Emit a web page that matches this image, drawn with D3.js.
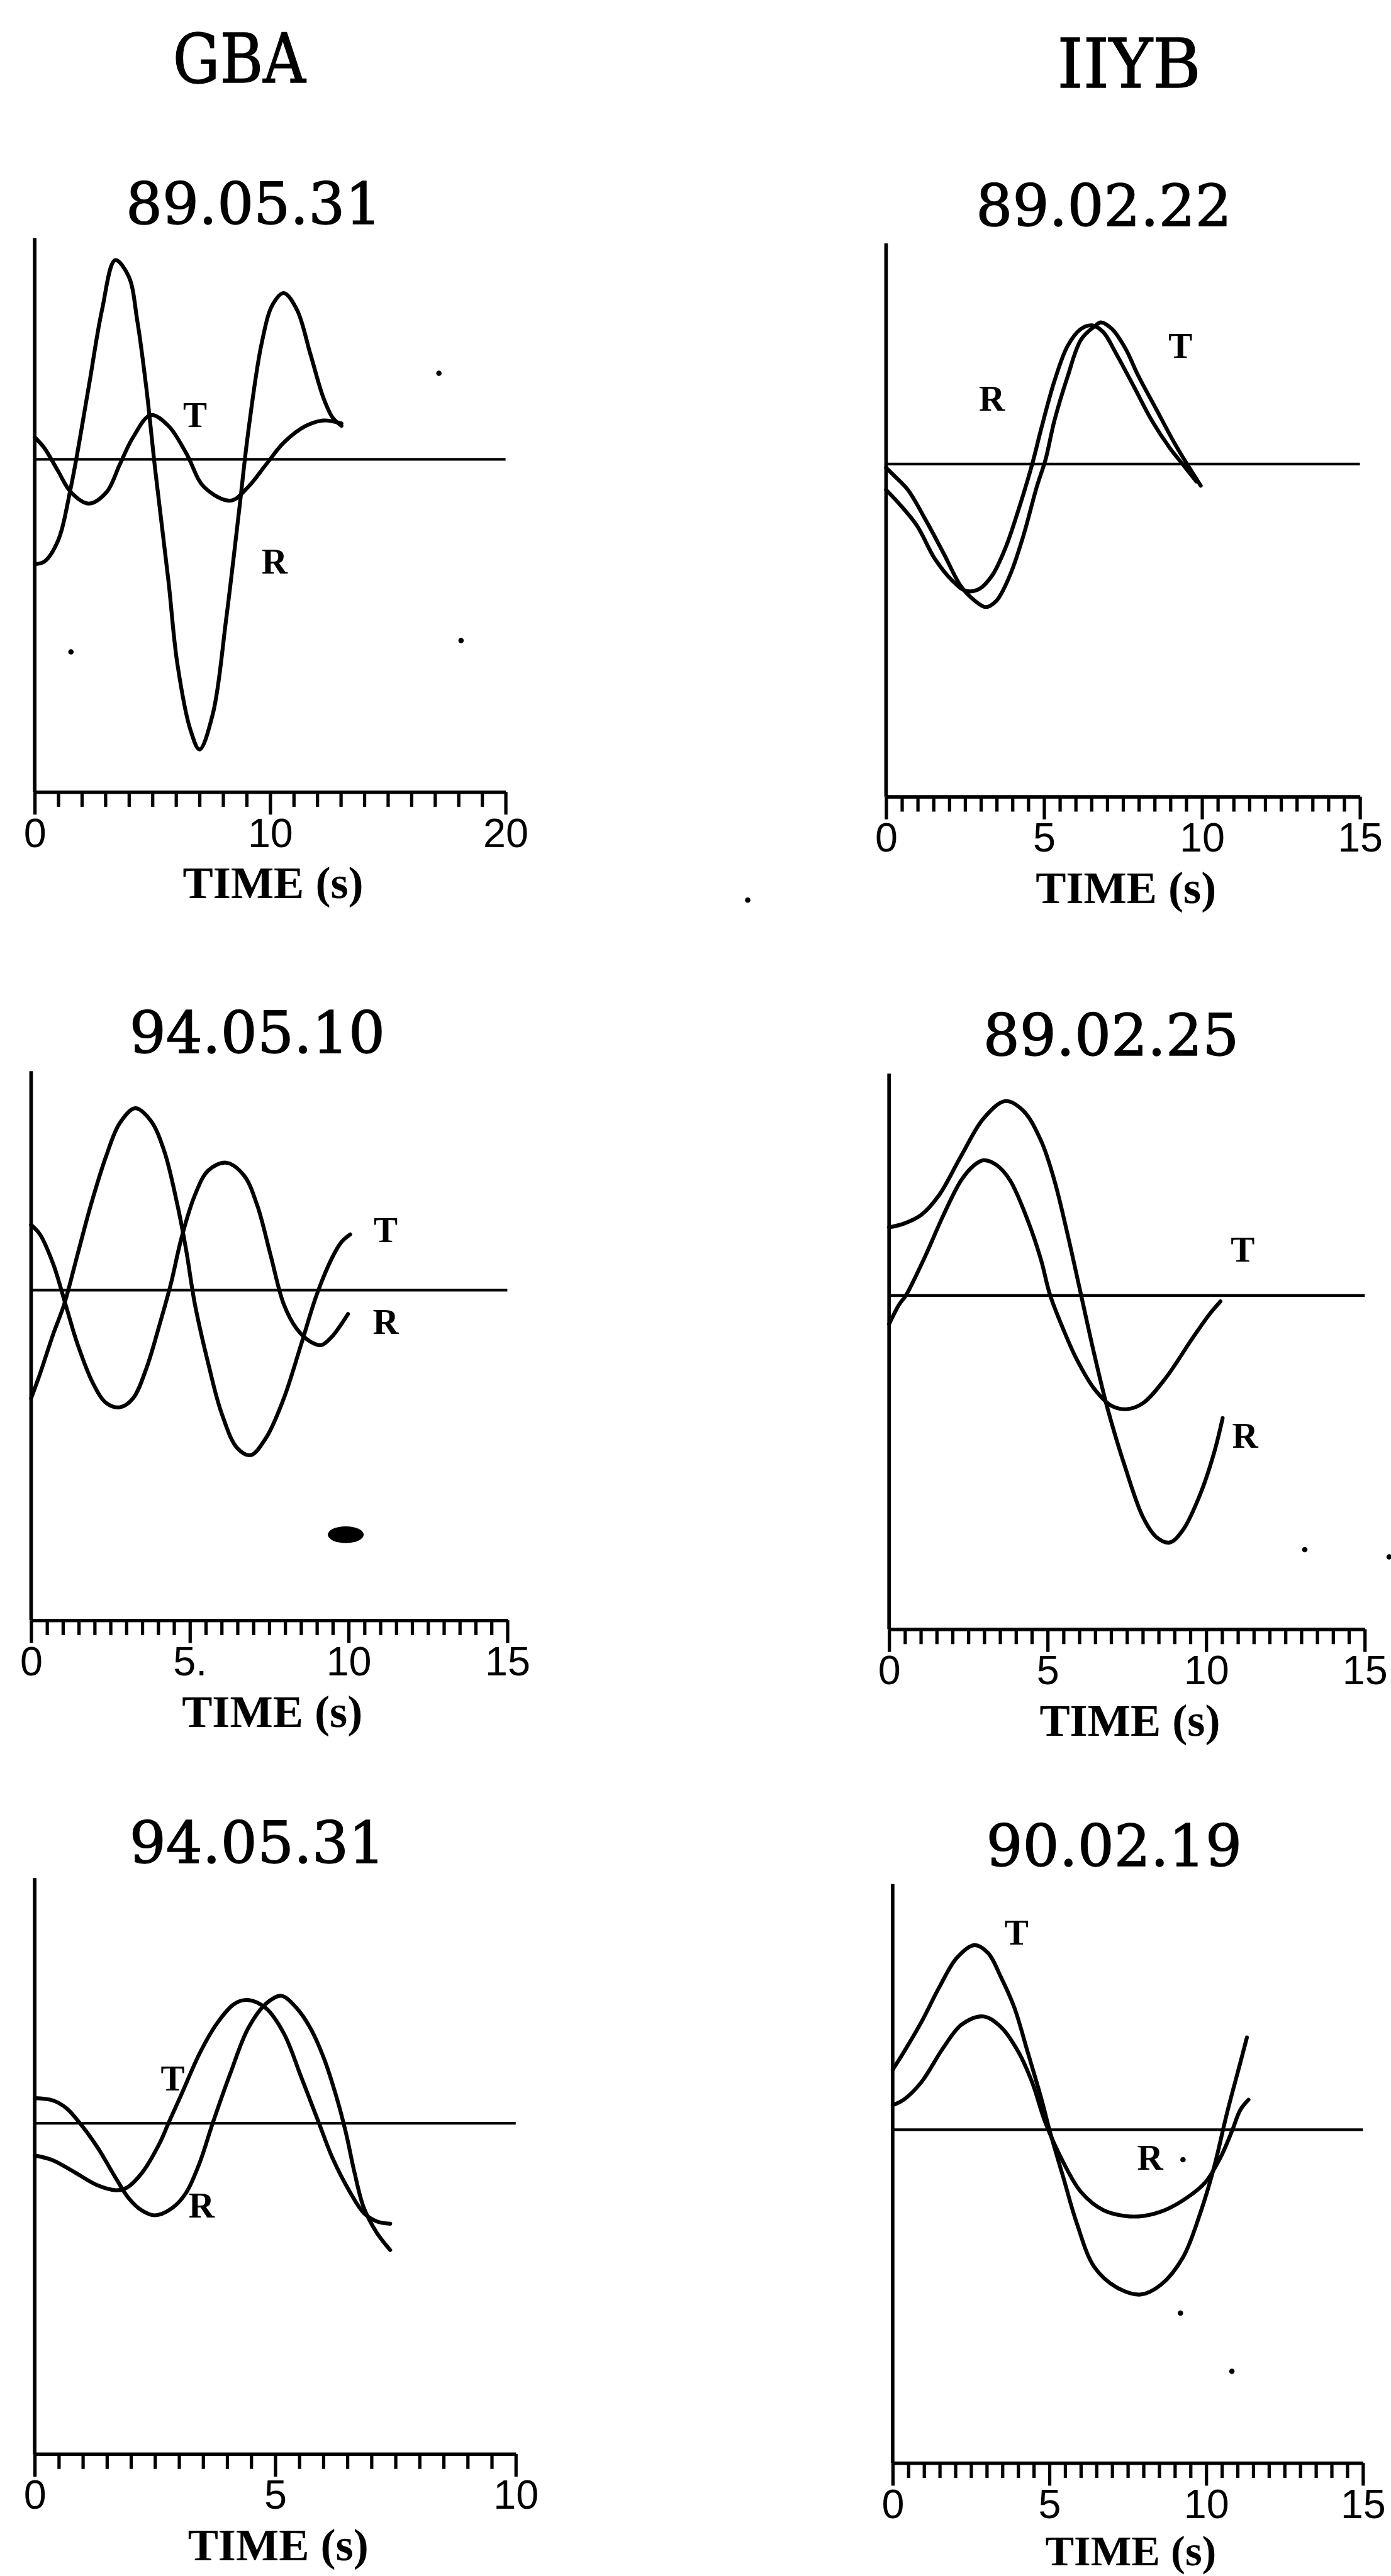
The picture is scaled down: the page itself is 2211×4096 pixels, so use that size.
<!DOCTYPE html>
<html><head><meta charset="utf-8">
<script src="https://cdn.jsdelivr.net/npm/d3@7"></script>
<style>html,body{margin:0;padding:0;background:#fff;} svg{display:block;background:#fff;}</style>
</head><body><svg id="c" width="2211" height="4096"></svg>
<script>
// ---------------- DATA ----------------
const stations = ["GBA", "IIYB"];
const eventDates = ["89.05.31", "89.02.22", "94.05.10", "89.02.25", "94.05.31", "90.02.19"];
const timeMax = [20, 15, 15, 15, 10, 15];
const majorTickValues = [[0, 10, 20], [0, 5, 10, 15], [0, 5, 10, 15], [0, 5, 10, 15], [0, 5, 10], [0, 5, 10, 15]];
const tickLabels = [["0", "10", "20"], ["0", "5", "10", "15"], ["0", "5.", "10", "15"], ["0", "5", "10", "15"], ["0", "5", "10"], ["0", "5", "10", "15"]];
const minorTickStep = [1, 0.5, 0.5, 0.5, 0.5, 0.5];
const axisTitle = "TIME (s)";
// amplitude range shown on each vertical axis (arbitrary units, 0 = reference line)
const ampDomain = [[-5.56, 3.70], [-5.56, 3.69], [-5.52, 3.66], [-5.58, 3.71], [-5.53, 4.10], [-5.56, 4.10]];

// [time s, amplitude]
const gba890531_R = [[0,-1.75],[0.41,-1.71],[0.97,-1.38],[1.54,-0.46],[2.29,1.20],[2.86,2.50],[3.42,3.33],[3.99,3.06],[4.36,2.31],[4.74,1.20],[5.12,-0.18],[5.68,-2.03],[6.06,-3.42],[6.62,-4.53],[7.00,-4.85],[7.57,-4.25],[8.13,-2.68],[8.69,-0.83],[9.07,0.46],[9.64,1.94],[10.11,2.59],[10.58,2.78],[11.14,2.50],[11.71,1.76],[12.27,1.02],[12.65,0.70],[13.03,0.56]];
const gba890531_T = [[0,0.37],[0.41,0.19],[0.97,-0.18],[1.54,-0.55],[2.29,-0.74],[3.05,-0.55],[3.61,-0.09],[4.18,0.37],[4.93,0.74],[5.68,0.56],[6.44,0.10],[7.19,-0.46],[8.32,-0.69],[9.07,-0.46],[9.82,-0.09],[10.58,0.28],[11.52,0.56],[12.27,0.65],[13.03,0.60]];

const iiyb890222_A = [[0,-0.06],[0.27,-0.20],[0.69,-0.43],[1.26,-0.94],[1.82,-1.49],[2.38,-2.05],[2.80,-2.28],[3.15,-2.39],[3.50,-2.28],[3.92,-1.86],[4.34,-1.21],[4.77,-0.38],[5.05,0.08],[5.33,0.73],[5.75,1.47],[6.17,2.08],[6.59,2.30],[6.80,2.37],[7.15,2.26],[7.57,1.94],[7.99,1.47],[8.55,0.92],[9.12,0.36],[9.54,-0.01],[9.96,-0.36]];
const iiyb890222_B = [[0,-0.43],[0.41,-0.66],[0.98,-1.03],[1.54,-1.58],[2.10,-1.95],[2.52,-2.12],[2.94,-2.09],[3.36,-1.86],[3.78,-1.40],[4.20,-0.75],[4.62,-0.01],[4.91,0.59],[5.33,1.39],[5.75,1.98],[6.17,2.26],[6.52,2.32],[6.87,2.21],[7.29,1.84],[7.85,1.29],[8.41,0.73],[8.98,0.27],[9.40,-0.01],[9.82,-0.29]];

const gba940510_T = [[0,-1.81],[0.28,-1.40],[0.70,-0.73],[1.04,-0.24],[1.46,0.59],[1.88,1.42],[2.37,2.25],[2.79,2.79],[3.28,3.04],[3.77,2.83],[4.19,2.33],[4.61,1.42],[4.88,0.68],[5.16,-0.24],[5.58,-1.23],[6.00,-2.06],[6.49,-2.64],[6.91,-2.76],[7.40,-2.47],[7.96,-1.81],[8.51,-0.90],[9.00,-0.07],[9.49,0.55],[9.77,0.80],[10.05,0.93]];
const gba940510_R = [[0,1.09],[0.28,0.93],[0.70,0.43],[1.09,-0.25],[1.46,-0.90],[1.95,-1.56],[2.37,-1.89],[2.79,-1.96],[3.21,-1.81],[3.63,-1.31],[4.05,-0.57],[4.40,0.10],[4.74,0.88],[5.16,1.59],[5.58,2.00],[6.14,2.13],[6.70,1.92],[7.12,1.42],[7.54,0.59],[7.96,-0.24],[8.37,-0.65],[8.79,-0.86],[9.14,-0.92],[9.49,-0.77],[9.77,-0.57],[9.98,-0.40]];

const iiyb890225_T = [[0,-0.48],[0.32,-0.15],[0.53,0.00],[1.16,0.68],[1.72,1.35],[2.28,1.93],[2.69,2.18],[2.98,2.26],[3.39,2.18],[3.81,1.93],[4.37,1.26],[4.79,0.60],[5.07,0.02],[5.49,-0.56],[5.91,-1.06],[6.47,-1.56],[7.03,-1.85],[7.52,-1.90],[8.01,-1.80],[8.71,-1.39],[9.55,-0.73],[10.11,-0.31],[10.45,-0.10]];
const iiyb890225_R = [[0,1.14],[0.46,1.20],[1.02,1.35],[1.58,1.68],[2.28,2.34],[2.98,2.96],[3.67,3.25],[4.23,3.09],[4.79,2.59],[5.21,1.93],[5.63,1.02],[6.05,0.02],[6.47,-0.98],[6.89,-1.89],[7.45,-2.88],[8.01,-3.71],[8.43,-4.04],[8.85,-4.13],[9.27,-3.92],[9.83,-3.30],[10.25,-2.63],[10.52,-2.05]];

const gba940531_R = [[0,0.42],[0.38,0.38],[0.66,0.25],[0.94,0.00],[1.31,-0.41],[1.68,-0.91],[1.95,-1.25],[2.23,-1.46],[2.50,-1.54],[2.87,-1.41],[3.15,-1.16],[3.43,-0.66],[3.70,0.00],[4.07,0.84],[4.44,1.59],[4.81,2.00],[5.13,2.13],[5.45,1.92],[5.73,1.59],[6.01,1.09],[6.28,0.42],[6.47,-0.16],[6.65,-0.83],[6.84,-1.41],[7.11,-1.83],[7.39,-2.12]];
const gba940531_T = [[0,-0.54],[0.38,-0.62],[0.85,-0.83],[1.31,-1.04],[1.68,-1.12],[1.91,-1.08],[2.23,-0.83],[2.60,-0.33],[2.78,0.00],[3.06,0.50],[3.43,1.17],[3.79,1.67],[4.16,2.00],[4.44,2.06],[4.81,1.92],[5.18,1.50],[5.55,0.75],[5.91,0.00],[6.19,-0.58],[6.56,-1.16],[6.84,-1.50],[7.11,-1.64],[7.39,-1.68]];

const iiyb900219_T = [[0,1.00],[0.35,1.29],[0.91,1.79],[1.48,2.37],[2.05,2.87],[2.61,3.08],[3.04,2.95],[3.46,2.54],[3.88,2.04],[4.31,1.29],[4.73,0.54],[5.02,-0.04],[5.44,-0.79],[5.86,-1.54],[6.43,-2.29],[7.14,-2.63],[7.91,-2.75],[8.55,-2.59],[9.26,-2.13],[9.82,-1.38],[10.25,-0.63],[10.67,0.29],[11.09,1.12],[11.30,1.54]];
const iiyb900219_R = [[0,0.41],[0.35,0.50],[0.91,0.79],[1.62,1.37],[2.19,1.75],[2.89,1.89],[3.46,1.71],[4.02,1.29],[4.45,0.79],[4.87,0.12],[5.44,-0.54],[6.01,-1.04],[6.71,-1.34],[7.42,-1.44],[7.98,-1.44],[8.69,-1.34],[9.40,-1.13],[9.97,-0.88],[10.46,-0.46],[10.81,-0.04],[11.09,0.33],[11.35,0.50]];

const panelSeries = [
  [gba890531_R, gba890531_T],
  [iiyb890222_A, iiyb890222_B],
  [gba940510_T, gba940510_R],
  [iiyb890225_T, iiyb890225_R],
  [gba940531_R, gba940531_T],
  [iiyb900219_T, iiyb900219_R]
];
// component labels [time, amplitude]
const labelTPos = [[6.81,0.74],[9.32,1.98],[11.17,1.01],[11.15,0.77],[2.87,0.75],[3.95,3.29]];
const labelRPos = [[10.19,-1.71],[3.35,1.10],[11.17,-0.53],[11.23,-2.34],[3.47,-1.37],[8.21,-0.46]];
// scan specks [panel, time, amplitude]
const specks = [[0,17.17,1.44],[0,1.54,-3.22],[0,18.11,-3.03],[1,-4.38,-7.29],[3,13.11,-4.25],[3,15.77,-4.37],[5,9.18,-3.06],[5,10.82,-4.03],[5,9.26,-0.50]];
const inkBlots = [[2,9.91,-4.09]];

// ---------------- LAYOUT (reference px) ----------------
const S = 0.951;
const frames = [
  {x0:58,   x1:845,  yTop:398,  yAxis:1324, titleX:424,  titleY:374, labY:1502, labSize:76},
  {x0:1481, x1:2273, yTop:407,  yAxis:1332, titleX:1845, titleY:377, labY:1510, labSize:76},
  {x0:52,   x1:848,  yTop:1791, yAxis:2709, titleX:430,  titleY:1760, labY:2887, labSize:76},
  {x0:1486, x1:2281, yTop:1795, yAxis:2724, titleX:1857, titleY:1764, labY:2902, labSize:76},
  {x0:58,   x1:862,  yTop:3140, yAxis:4103, titleX:430,  titleY:3115, labY:4281, labSize:76},
  {x0:1492, x1:2278, yTop:3150, yAxis:4118, titleX:1862, titleY:3120, labY:4289, labSize:72}
];
const headerPos = [[400,138],[1887,146]];
const headerWidth = [222, 240];

const svg = d3.select("#c");
svg.append("rect").attr("width",2211).attr("height",4096).attr("fill","#fff");
const root = svg.append("g").attr("transform", `scale(${S})`);

stations.forEach((s,i)=>{
  root.append("text").attr("x",headerPos[i][0]).attr("y",headerPos[i][1])
    .attr("text-anchor","middle").attr("font-family","'DejaVu Serif', serif")
    .attr("font-size",114).attr("fill","#000")
    .attr("textLength",headerWidth[i]).attr("lengthAdjust","spacingAndGlyphs")
    .attr("stroke","#000").attr("stroke-width",1.5).text(s);
});

const lineStroke = 6.5;
frames.forEach((f,i)=>{
  const x = d3.scaleLinear().domain([0,timeMax[i]]).range([f.x0,f.x1]);
  const y = d3.scaleLinear().domain(ampDomain[i]).range([f.yAxis,f.yTop]);
  const g = root.append("g");

  // title
  g.append("text").attr("x",f.titleX).attr("y",f.titleY).attr("text-anchor","middle")
    .attr("font-family","'DejaVu Serif', serif").attr("font-size",96).attr("fill","#000")
    .attr("stroke","#000").attr("stroke-width",1.5)
    .text(eventDates[i]);

  // vertical axis
  g.append("line").attr("x1",x(0)).attr("x2",x(0)).attr("y1",f.yTop).attr("y2",f.yAxis)
    .attr("stroke","#000").attr("stroke-width",6);

  // minor ticks
  const minor = d3.range(0, timeMax[i]+1e-9, minorTickStep[i]).filter(v=>!majorTickValues[i].includes(v));
  const gMin = g.append("g").attr("transform",`translate(0,${f.yAxis})`)
    .call(d3.axisBottom(x).tickValues(minor).tickSize(25).tickSizeOuter(0).tickFormat(""));
  // major ticks + labels
  const gMaj = g.append("g").attr("transform",`translate(0,${f.yAxis})`)
    .call(d3.axisBottom(x).tickValues(majorTickValues[i]).tickSize(38).tickSizeOuter(0)
      .tickFormat((d,k)=>tickLabels[i][k]));
  [gMin,gMaj].forEach(a=>{
    a.select(".domain").attr("stroke","#000").attr("stroke-width",5.5);
    a.selectAll(".tick line").attr("stroke","#000").attr("stroke-width",5.5);
  });
  gMaj.selectAll(".tick text").attr("y",92).attr("dy","0").attr("fill","#000")
    .attr("font-family","'Liberation Sans', Arial, sans-serif").attr("font-size",68);
  gMaj.attr("font-family",null).attr("font-size",null);

  // axis title
  g.append("text").attr("x",(f.x0+f.x1)/2+5).attr("y",f.labY).attr("text-anchor","middle")
    .attr("font-family","'Liberation Serif', 'Times New Roman', serif").attr("font-weight","bold")
    .attr("font-size",f.labSize).attr("fill","#000").text(axisTitle);

  // zero reference line
  g.append("line").attr("x1",x(0)).attr("x2",x(timeMax[i])).attr("y1",y(0)).attr("y2",y(0))
    .attr("stroke","#000").attr("stroke-width",4.5);

  // traces
  const line = d3.line().x(d=>x(d[0])).y(d=>y(d[1])).curve(d3.curveCatmullRom.alpha(0.5));
  panelSeries[i].forEach(s=>{
    g.append("path").attr("d",line(s)).attr("fill","none").attr("stroke","#000")
      .attr("stroke-width",lineStroke).attr("stroke-linejoin","round").attr("stroke-linecap","round");
  });

  // component labels
  [["T",labelTPos[i]],["R",labelRPos[i]]].forEach(([t,p])=>{
    g.append("text").attr("x",x(p[0])).attr("y",y(p[1])).attr("text-anchor","middle")
      .attr("dominant-baseline","central")
      .attr("font-family","'Liberation Serif', 'Times New Roman', serif").attr("font-weight","bold")
      .attr("font-size",60).attr("fill","#000").text(t);
  });

  specks.filter(s=>s[0]===i).forEach(s=>{
    g.append("circle").attr("cx",x(s[1])).attr("cy",y(s[2])).attr("r",4.5).attr("fill","#000");
  });
  inkBlots.filter(s=>s[0]===i).forEach(s=>{
    g.append("ellipse").attr("cx",x(s[1])).attr("cy",y(s[2])).attr("rx",30).attr("ry",14).attr("fill","#000");
  });
});
</script></body></html>
